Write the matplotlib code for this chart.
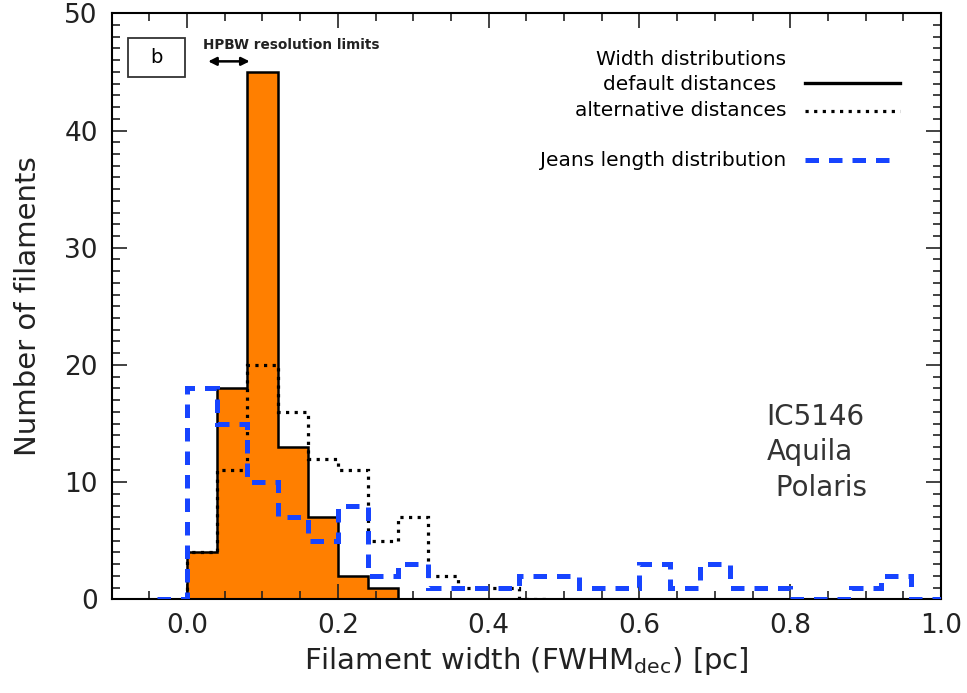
import numpy as np
import matplotlib
matplotlib.use("Agg")
import matplotlib.pyplot as plt
from matplotlib.patches import Rectangle
from matplotlib.ticker import MultipleLocator, FormatStrFormatter

BIN_WIDTH = 0.04

# width distribution, default distances (bins start at 0.0)
default_counts = [4, 18, 45, 13, 7, 2, 1]
default_start = 0.0

# width distribution, alternative distances (bins start at 0.0)
alt_counts = [4, 11, 20, 16, 12, 11, 5, 7, 2, 1, 1, 0]
alt_start = 0.0

# Jeans length distribution (bins start at -0.04)
jeans_counts = [0, 18, 15, 10, 7, 5, 8, 2, 3, 1, 1, 1, 2, 2, 1, 1,
                3, 1, 3, 1, 1, 0, 0, 1, 2, 0]
jeans_start = -0.04

regions = ["IC5146", "Aquila", " Polaris"]

ORANGE = "#ff7f00"
BLUE = "#1744ff"
DOTS = (0, (1.0, 1.7))


def edges(start, counts):
    return start + BIN_WIDTH * np.arange(len(counts) + 1)


plt.rcParams["font.family"] = "DejaVu Sans"
plt.rcParams["mathtext.fontset"] = "dejavusans"

fig = plt.figure(figsize=(9.67, 6.93), dpi=100)
ax = fig.add_axes([0.1155, 0.1352, 0.8576, 0.8456])

# filled histogram + outline
ax.stairs(default_counts, edges(default_start, default_counts),
          fill=True, color=ORANGE, zorder=1)
ax.stairs(default_counts, edges(default_start, default_counts),
          color="black", lw=1.8, zorder=2)
# alternative distances, dotted
ax.stairs(alt_counts, edges(alt_start, alt_counts), color="black",
          lw=2.3, linestyle=DOTS, zorder=3)
# Jeans length, dashed
ax.stairs(jeans_counts, edges(jeans_start, jeans_counts), color=BLUE,
          lw=3.6, linestyle=(0, (2.7, 2.0)), zorder=4)

ax.set_xlim(-0.1, 1.0)
ax.set_ylim(0, 50)
ax.xaxis.set_major_locator(MultipleLocator(0.2))
ax.xaxis.set_minor_locator(MultipleLocator(0.05))
ax.yaxis.set_major_locator(MultipleLocator(10))
ax.yaxis.set_minor_locator(MultipleLocator(1))
ax.xaxis.set_major_formatter(FormatStrFormatter("%.1f"))
ax.tick_params(which="both", direction="in", top=True, right=True,
               width=1.2, labelsize=19, color="#222222",
               labelcolor="#222222")
ax.tick_params(which="major", length=11, pad=10)
ax.tick_params(which="minor", length=5.5)
for sp in ax.spines.values():
    sp.set_linewidth(1.5)

ax.set_xlabel(r"Filament width (FWHM$_{\rm dec}$) [pc]", fontsize=21,
              labelpad=4, color="#222222")
ax.set_ylabel("Number of filaments", fontsize=21, labelpad=16,
              color="#222222")

# panel tag
ax.add_patch(Rectangle((0.02, 0.892), 0.068, 0.0655, transform=ax.transAxes,
                       fill=False, lw=1.3, edgecolor="#333333"))
ax.text(0.054, 0.925, "b", transform=ax.transAxes, ha="center",
        va="center", fontsize=14)

# resolution limits
ax.annotate("", xy=(0.028, 45.9), xytext=(0.083, 45.9),
            arrowprops=dict(arrowstyle="<|-|>", lw=1.8, color="black",
                            mutation_scale=12, shrinkA=0, shrinkB=0))
ax.text(0.0216, 47.3, "HPBW resolution limits", fontsize=9.8,
        fontweight="bold", va="center", ha="left", color="#222222")

# legend built by hand
tx = 0.8138
ax.text(tx, 0.922, "Width distributions", transform=ax.transAxes,
        ha="right", va="center", fontsize=14.5)
ax.text(tx - 0.0125, 0.879, "default distances", transform=ax.transAxes,
        ha="right", va="center", fontsize=14.5)
ax.text(tx, 0.834, "alternative distances", transform=ax.transAxes,
        ha="right", va="center", fontsize=14.5)
ax.text(tx, 0.748, "Jeans length distribution", transform=ax.transAxes,
        ha="right", va="center", fontsize=14.5)
ax.plot([0.8361, 0.9507], [0.881, 0.881], transform=ax.transAxes,
        color="black", lw=2.4)
ax.plot([0.8361, 0.9507], [0.834, 0.834], transform=ax.transAxes,
        color="black", lw=2.3, linestyle=DOTS)
ax.plot([0.8361, 0.939], [0.7497, 0.7497], transform=ax.transAxes,
        color=BLUE, lw=3.6, linestyle=(0, (2.7, 2.0)))

for i, name in enumerate(regions):
    ax.text(0.7898, 0.3116 - 0.0607 * i, name, transform=ax.transAxes,
            ha="left", va="center", fontsize=20, color="#333333")

fig.savefig("out.png", dpi=100)
